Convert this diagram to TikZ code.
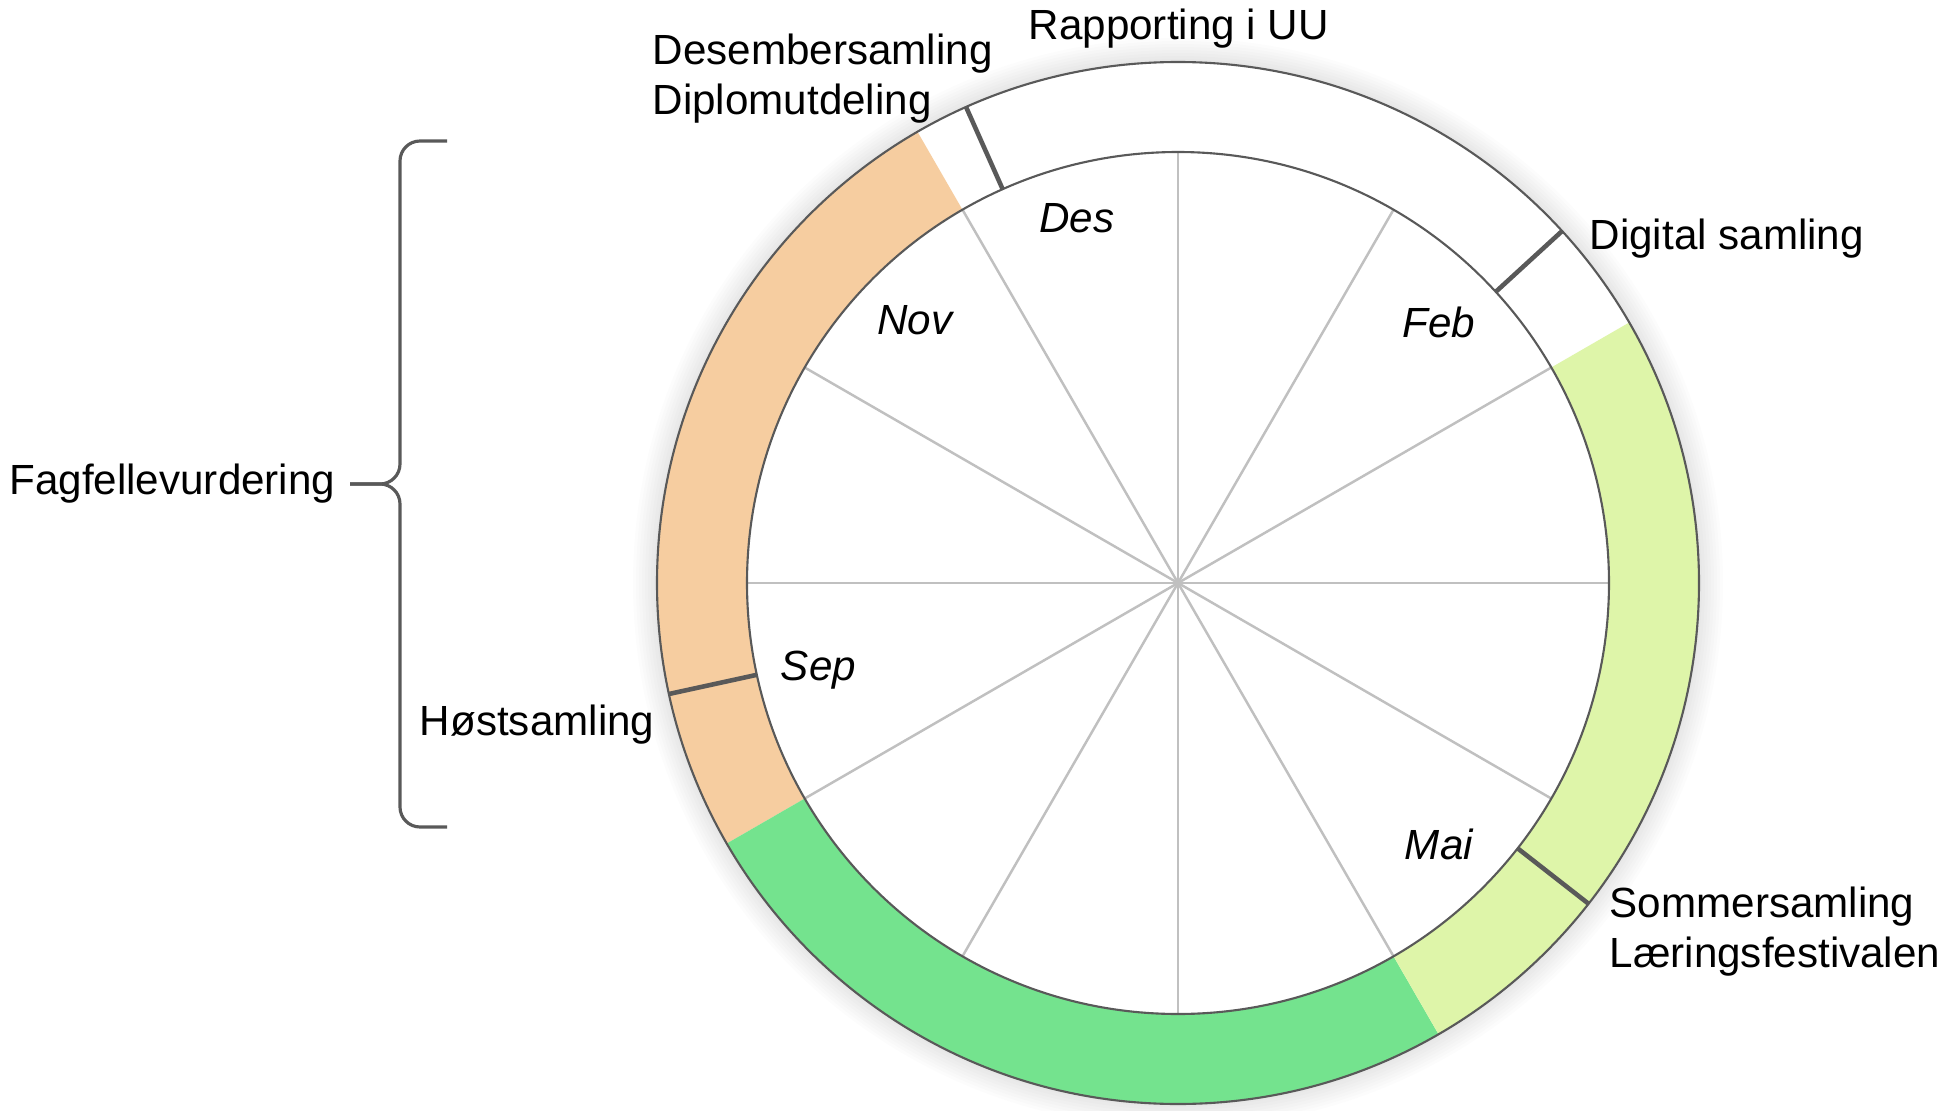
\documentclass[tikz,border=0pt]{standalone}
\usepackage{fontspec}
\setmainfont{Liberation Sans}
\usetikzlibrary{positioning}

\definecolor{peach}{HTML}{F6CDA0}
\definecolor{ringlime}{HTML}{DEF5A9}
\definecolor{ringgreen}{HTML}{74E38E}
\definecolor{rimgray}{HTML}{595959}
\definecolor{spokegray}{HTML}{C0C0C0}

\begin{document}
\begin{tikzpicture}[
		% Style definitions
		event/.style={
			font=\fontsize{12}{14.2}\selectfont,
			align=left,
			inner sep=0pt
		},
		month/.style={
			font=\fontsize{12}{14.2}\selectfont\itshape,
			inner sep=0pt
		},
		spoke/.style={spokegray, line width=0.7pt},
		rim/.style={rimgray, line width=0.6pt},
		marker/.style={rimgray, line width=1.3pt},
		brace/.style={rimgray, line width=0.9pt, rounded corners=0.2cm}
		]
		\useasboundingbox (0,0) rectangle (19.59,11.10);
		\coordinate (C) at (11.78,5.27);
		
		% Soft shadow round the wheel
		\foreach \k in {1,...,8}
			\fill[black, opacity=0.012] (C) circle ({5.21+0.03*\k});
		\fill[white] (C) circle (5.21);
		
		\begin{scope}[shift={(C)}]
			% Ring segments
			\foreach \a/\b/\col in {30/120/white, 120/210/peach, 210/300/ringgreen, -60/30/ringlime}
				\fill[\col] (\a:4.31) arc[start angle=\a, end angle=\b, radius=4.31]
					-- (\b:5.21) arc[start angle=\b, end angle=\a, radius=5.21] -- cycle;
			
			% Month spokes
			\foreach \a in {0,30,...,330}
				\draw[spoke] (0,0) -- (\a:4.31);
			\draw[rim] (0,0) circle (4.31);
			\draw[rim] (0,0) circle (5.21);
			
			% Event markers
			\foreach \a in {114, 42.5, -38, 192.3}
				\draw[marker] (\a:4.31) -- (\a:5.21);
			
			% Month labels
			\foreach \a/\r/\m in {105.5/3.79/Des, 135/3.72/Nov, 45/3.69/Feb, 193.6/3.70/Sep, -45/3.69/Mai}
				\node[month] (m-\m) at (\a:\r) {\m};
		\end{scope}
		
		% Event labels
		\node[event, anchor=west] (desember) at (6.52,10.31) {Desembersamling\\Diplomutdeling};
		\node[event, anchor=west] (rapport) at (10.28,10.81) {Rapporting i UU};
		\node[event, anchor=west] (digital) at (15.89,8.71) {Digital samling};
		\node[event, anchor=west] (sommer) at (16.09,1.78) {Sommersamling\\Læringsfestivalen};
		\node[event, anchor=east] (host) at (6.55,3.85) {Høstsamling};
		
		% Brace
		\coordinate (tip) at (3.50,6.26);
		\draw[brace] (4.47,9.69) -- (4.00,9.69) -- (4.00,6.26) -- (tip);
		\draw[brace] (tip) -- (4.00,6.26) -- (4.00,2.83) -- (4.47,2.83);
		\node[event, left=0.14cm of tip] (fagfelle) {Fagfellevurdering};
		
	\end{tikzpicture}
\end{document}
